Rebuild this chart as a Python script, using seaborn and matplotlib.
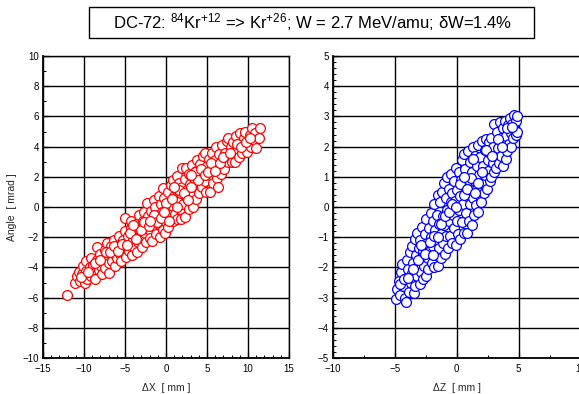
import matplotlib
matplotlib.use("Agg")
import matplotlib.pyplot as plt
from matplotlib.patches import Rectangle
from matplotlib.ticker import MultipleLocator
import seaborn as sns
import pandas as pd

# ---- data ----
dx_mm = [-12.1, -11.1, -10.9, -10.6, -10.5, -10.2, -10.1, -9.9, -9.8, -9.7, -9.6,
         -9.3, -9.2, -9.1, -8.9, -8.8, -8.6, -8.4, -8.4, -8.2,
         -8.0, -7.9, -7.8, -7.6, -7.5, -7.4, -7.2, -7.1, -7.0, -6.9,
         -6.7, -6.6, -6.5, -6.3, -6.2, -6.1, -6.0, -5.8, -5.7, -5.6, -5.5,
         -5.3, -5.2, -5.0, -5.0, -4.9, -4.8, -4.6, -4.5, -4.3, -4.3, -4.1, -4.0,
         -3.9, -3.8, -3.6, -3.5, -3.4, -3.3, -3.2, -3.1, -2.9, -2.8, -2.7,
         -2.6, -2.5, -2.4, -2.3, -2.2, -2.0, -1.9, -1.8, -1.7, -1.6, -1.5,
         -1.4, -1.3, -1.2, -1.0, -0.9, -0.8, -0.7, -0.6, -0.5, -0.4, -0.35, -0.2,
         -0.1, -0.1, 0.1, 0.2, 0.3, 0.4, 0.5, 0.6, 0.8, 0.8, 0.9, 1.0,
         1.1, 1.2, 1.3, 1.4, 1.5, 1.6, 1.7, 1.8, 1.8, 1.95, 2.0, 2.1,
         2.3, 2.3, 2.4, 2.5, 2.6, 2.8, 2.8, 2.9, 3.0, 3.2, 3.3, 3.3,
         3.4, 3.6, 3.7, 3.8, 3.8, 4.0, 4.1, 4.2, 4.4, 4.5, 4.6, 4.75,
         4.8, 4.9, 5.0, 5.2, 5.4, 5.4, 5.6, 5.7, 5.8, 6.0, 6.1, 6.2,
         6.3, 6.4, 6.5, 6.7, 6.8, 6.9, 7.1, 7.2, 7.4, 7.5, 7.6, 7.7,
         7.9, 8.1, 8.2, 8.3, 8.4, 8.5, 8.7, 8.9, 9.0, 9.1, 9.3, 9.5,
         9.6, 9.8, 9.9, 10.0, 10.2, 10.4, 10.5, 10.7, 10.9, 11.0, 11.3, 11.5,
         -10.4, -9.5, -8.7, -8.1, -7.3, -6.8, -6.4, -5.9, -5.4, -4.7, -4.4, -3.7,
         -3.0, -2.7, -2.1, -1.5, -1.1, -0.6, 0.0, 0.4, 0.7, 1.3, 1.6, 2.2,
         2.7, 3.1, 3.5, 3.9, 4.3, 4.7, 5.1, 5.5, 6.0, 6.6, 7.0, 7.8,
         8.6, 9.2, 9.7, 10.3, 3.0, 1.0, -0.2, -2.0, -4.0]
angle_x = [-5.85, -5.0, -4.55, -4.3, -4.9, -4.45, -3.9, -5.05, -3.6, -4.25, -4.75,
           -4.0, -4.6, -3.35, -3.85, -4.35, -4.8, -2.65, -3.5, -4.15,
           -3.1, -3.9, -4.45, -3.45, -2.85, -4.05, -2.4, -3.25, -3.7, -4.4,
           -2.6, -3.6, -3.05, -2.2, -3.9, -2.85, -3.35, -2.5, -1.95, -3.1, -3.6,
           -2.2, -2.75, -0.75, -1.6, -3.3, -2.4, -1.95, -2.9, -0.9, -1.4, -3.2, -2.2,
           -2.65, -1.75, -1.15, -2.95, -2.35, -0.55, -1.5, -1.95, -2.65, -0.95, -0.3,
           -1.75, -2.3, -1.2, 0.25, -0.6, -1.55, -2.05, -0.25, -2.25, -0.95, 0.45,
           -1.35, 0.0, -1.8, -0.55, 0.75, -1.1, -2.0, 0.2, -0.35, -1.5, 1.25, 0.6,
           -0.9, -1.7, -0.2, 1.0, -1.3, 0.35, -0.55, 1.45, 1.8, -0.95, 0.05, 0.7,
           -0.45, 1.2, 2.05, -0.8, 0.35, 1.6, -0.1, 0.95, -0.8, 2.6, 1.35, 0.2,
           -0.65, 1.85, 2.6, 0.6, 1.1, -0.1, 2.2, 1.55, 0.35, 2.75, 0.0, 1.0,
           1.95, 0.55, 2.4, 3.1, 1.45, 0.95, 2.0, 2.85, 1.3, 3.4, 2.3, 3.6,
           1.75, 1.0, 2.7, 3.15, 1.0, 2.15, 3.6, 1.6, 2.55, 3.1, 4.0, 1.95,
           1.3, 2.6, 3.5, 2.2, 4.1, 3.0, 2.5, 3.6, 4.35, 2.95, 4.6, 3.3,
           3.95, 2.95, 4.3, 3.5, 2.98, 4.7, 3.8, 3.3, 4.9, 4.2, 3.6, 4.55,
           5.0, 3.9, 3.65, 4.35, 4.75, 4.0, 5.2, 4.45, 4.9, 3.9, 4.6, 5.25,
           -4.65, -4.3, -3.7, -3.5, -3.0, -3.0, -2.6, -2.9, -2.45, -2.5, -1.7, -2.1,
           -1.55, -1.0, -1.25, -0.5, -1.0, -0.75, 0.25, -0.9, 0.55, 0.0, 1.1, 0.9,
           0.45, 1.3, 2.3, 1.8, 2.5, 2.1, 2.35, 2.9, 2.4, 2.9, 3.3, 3.6,
           4.2, 4.0, 4.3, 4.55, 2.1, 1.3, -0.3, -0.9, -1.2]

dz_mm = [-4.9, -4.85, -4.7, -4.6, -4.5, -4.4, -4.35, -4.2, -4.1, -4.1, -4.0, -3.95,
         -3.85, -3.8, -3.7, -3.65, -3.6, -3.55, -3.45, -3.4, -3.35, -3.3, -3.25, -3.2, -3.15,
         -3.05, -3.0, -2.95, -2.9, -2.85, -2.8, -2.75, -2.7, -2.65, -2.6, -2.5, -2.45, -2.4, -2.35,
         -2.3, -2.25, -2.2, -2.1, -2.05, -2.0, -1.95, -1.9, -1.85, -1.8, -1.75, -1.7, -1.65,
         -1.6, -1.55, -1.5, -1.45, -1.4, -1.35, -1.3, -1.25, -1.2, -1.15, -1.1, -1.05, -1.0,
         -0.95, -0.9, -0.85, -0.8, -0.75, -0.7, -0.65, -0.6, -0.55, -0.5, -0.45, -0.4, -0.35,
         -0.3, -0.25, -0.2, -0.15, -0.1, -0.05, 0.0, 0.05, 0.1, 0.15, 0.2, 0.25, 0.3,
         0.35, 0.4, 0.45, 0.5, 0.55, 0.6, 0.65, 0.7, 0.75, 0.8, 0.85, 0.9, 0.95,
         1.0, 1.05, 1.1, 1.15, 1.2, 1.25, 1.3, 1.35, 1.4, 1.45, 1.5, 1.55, 1.6,
         1.65, 1.7, 1.75, 1.8, 1.85, 1.9, 1.95, 2.0, 2.05, 2.1, 2.2, 2.25, 2.3,
         2.35, 2.45, 2.5, 2.55, 2.6, 2.65, 2.7, 2.75, 2.8, 2.9, 2.95, 3.0, 3.05,
         3.1, 3.2, 3.25, 3.3, 3.4, 3.5, 3.55, 3.6, 3.7, 3.75, 3.8, 3.9, 3.95,
         4.0, 4.1, 4.15, 4.2, 4.3, 4.35, 4.4, 4.5, 4.55, 4.6, 4.7, 4.75, 4.8, 4.85, 4.9,
         -4.55, -4.25, -3.9, -3.5, -3.1, -2.85, -2.55, -2.15, -1.85, -1.55, -1.25,
         -0.95, -0.65, -0.35, -0.05, 0.25, 0.55, 0.85, 1.15, 1.45, 1.75, 2.05,
         2.4, 2.85, 3.35, 3.65, 4.05, 4.45, -1.95, 0.6, 1.3]
angle_z = [-3.05, -2.7, -2.45, -2.9, -2.15, -1.9, -2.6, -3.0, -3.15, -2.35, -1.75, -2.05,
           -2.8, -1.5, -2.5, -1.3, -2.2, -1.85, -2.85, -1.05, -2.6, -1.6, -2.3, -0.85, -1.95,
           -1.35, -2.55, -1.1, -2.15, -1.7, -0.65, -2.4, -1.45, -1.95, -0.9, -2.3, -0.4, -1.2, -1.7,
           -2.05, -0.7, -1.45, -0.2, -1.0, -1.85, -0.45, -1.3, 0.1, -2.0, -0.75, -1.6, -1.1,
           -0.25, 0.4, -1.95, -0.55, -1.35, 0.15, -0.9, -1.7, 0.5, -0.3, -1.2, 0.8, -0.6,
           -1.55, 0.3, -0.95, -0.1, 1.0, -1.35, 0.6, -0.45, -0.95, 0.15, 1.1, -1.2, 0.45,
           -0.25, -0.7, 0.85, 0.2, -1.25, 1.3, -0.45, 0.55, -0.9, 1.15, -0.1, 0.35, -1.05,
           0.9, 1.55, -0.5, 0.1, 1.75, -0.85, 0.65, 1.25, -0.2, 0.35, -0.85, 1.85, 0.9,
           -0.45, 0.1, 1.5, 0.55, -0.6, 1.15, 0.3, 2.0, -0.25, 0.85, 1.7, 0.05, 1.35,
           0.6, -0.15, 2.05, 1.05, 0.35, 1.65, 0.15, 2.2, 0.8, 1.35, 0.45, 1.9, 1.05,
           2.25, 0.6, 1.55, 1.2, 2.15, 0.85, 1.8, 2.3, 1.0, 1.45, 2.0, 1.15, 2.75,
           1.7, 1.3, 2.5, 1.95, 1.45, 2.8, 1.7, 2.3, 1.35, 2.6, 2.05, 2.85, 1.6,
           2.35, 1.85, 2.7, 2.1, 2.95, 2.45, 2.0, 2.75, 2.3, 3.05, 2.55, 2.85, 2.4, 3.0, 2.5,
           -2.55, -2.4, -2.35, -2.05, -1.75, -1.25, -1.55, -1.15, -0.95, -1.0, -0.55,
           -0.3, -0.15, 0.1, 0.0, 0.75, 0.4, 0.6, 0.95, 0.45, 0.8, 1.15,
           1.9, 1.7, 2.25, 2.0, 2.6, 2.65, -1.6, 1.0, 1.6]

x_ticks = [-15, -10, -5, 0, 5, 10, 15]
z_ticks = [-10, -5, 0, 5, 10]
title_text = r"DC-72: $^{84}$Kr$^{+12}$ => Kr$^{+26}$; W = 2.7 MeV/amu; $\delta$W=1.4%"

sns.set_style("white")
plt.rcParams['font.family'] = ['Liberation Sans', 'DejaVu Sans']
plt.rcParams['mathtext.fontset'] = 'custom'
plt.rcParams['mathtext.rm'] = 'Liberation Sans'
plt.rcParams['mathtext.it'] = 'Liberation Sans'

W, H = 579, 394
fig = plt.figure(figsize=(W / 100, H / 100), dpi=100)
fig.patch.set_facecolor("white")

ax1 = fig.add_axes([43 / W, (H - 358) / H, 246 / W, 302 / H])
ax2 = fig.add_axes([333 / W, (H - 358) / H, 247.5 / W, 302 / H])

df1 = pd.DataFrame({"x": dx_mm, "y": angle_x})
df2 = pd.DataFrame({"x": dz_mm, "y": angle_z})

for ax, df, col in [(ax1, df1, "#ff0000"), (ax2, df2, "#0000ff")]:
    sns.scatterplot(data=df, x="x", y="y", ax=ax, marker="o", s=50,
                    facecolor="white", edgecolor=col, linewidth=0.9, zorder=3)

def style(ax, xlim, ylim, xmaj, xmin, ymaj, ymin, xlabel, ylabel):
    ax.set_xlim(*xlim)
    ax.set_ylim(*ylim)
    ax.xaxis.set_major_locator(MultipleLocator(xmaj))
    ax.xaxis.set_minor_locator(MultipleLocator(xmin))
    ax.yaxis.set_major_locator(MultipleLocator(ymaj))
    ax.yaxis.set_minor_locator(MultipleLocator(ymin))
    ax.grid(True, which="major", color="black", linewidth=1.0)
    ax.set_axisbelow(True)
    ax.tick_params(which="both", direction="in", labelsize=7, colors="black",
                   left=True, bottom=True, top=False, right=False)
    ax.tick_params(axis="x", which="both", pad=4)
    ax.tick_params(axis="y", which="both", pad=3)
    ax.tick_params(which="major", length=4, width=0.9)
    ax.tick_params(which="minor", length=2.5, width=0.7)
    for s in ["left", "bottom"]:
        ax.spines[s].set_linewidth(1.3)
        ax.spines[s].set_color("black")
    for s in ["top", "right"]:
        ax.spines[s].set_linewidth(1.0)
        ax.spines[s].set_color("black")
    ax.set_xlabel(xlabel, fontsize=7.5, labelpad=7)
    ax.set_ylabel(ylabel, fontsize=7.5, labelpad=4)

style(ax1, (-15, 15), (-10, 10), 5, 1, 2, 1, "\u0394X  [ mm ]", "Angle  [ mrad ]")
style(ax2, (-10, 10), (-5, 5), 5, 2.5, 1, 0.2, "\u0394Z  [ mm ]", "")
ax1.set_xticks(x_ticks)
ax2.set_xticks(z_ticks)

fig.patches.append(Rectangle((89 / W, (H - 38) / H), 445 / W, 31 / H,
                             transform=fig.transFigure, fill=False,
                             edgecolor="black", linewidth=1.0))
fig.text(313 / W, 1 - 22.5 / H, title_text, ha="center", va="center",
         fontsize=12, color="black")

fig.savefig("out.png", dpi=100, facecolor="white")
